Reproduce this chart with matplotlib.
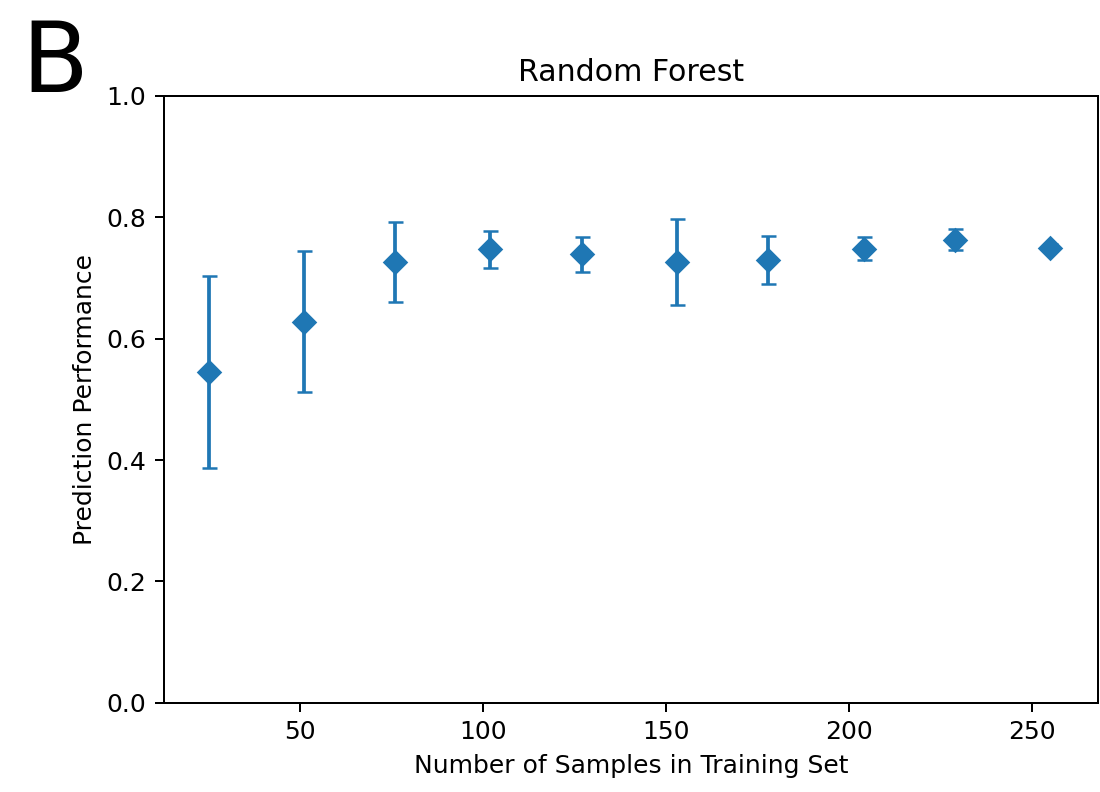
import matplotlib
matplotlib.use('Agg')
import matplotlib.pyplot as plt

# training set sizes and mean prediction performance with std
n_train = [25, 51, 76, 102, 127, 153, 178, 204, 229, 255]
perf_mean = [0.545, 0.628, 0.727, 0.747, 0.739, 0.726, 0.730, 0.748, 0.763, 0.750]
perf_std = [0.158, 0.116, 0.066, 0.030, 0.029, 0.071, 0.040, 0.019, 0.017, 0.006]

fig = plt.figure(figsize=(1100 / 180, 792 / 180), dpi=180)
ax = fig.add_axes([0.149, 0.1127, 0.998 - 0.149, 0.8788 - 0.1127])

ax.errorbar(n_train, perf_mean, yerr=perf_std, fmt='D', capsize=3)
ax.set_ylim(0, 1.0)
ax.set_xlim(12.8, 268)
ax.set_yticks([0.0, 0.2, 0.4, 0.6, 0.8, 1.0])
ax.set_xlabel('Number of Samples in Training Set')
ax.set_ylabel('Prediction Performance')
ax.set_title('Random Forest')

fig.text(0.0197, 1 - 92 / 792, 'B', fontsize=39, ha='left', va='baseline')

plt.savefig('out.png', dpi=180)
